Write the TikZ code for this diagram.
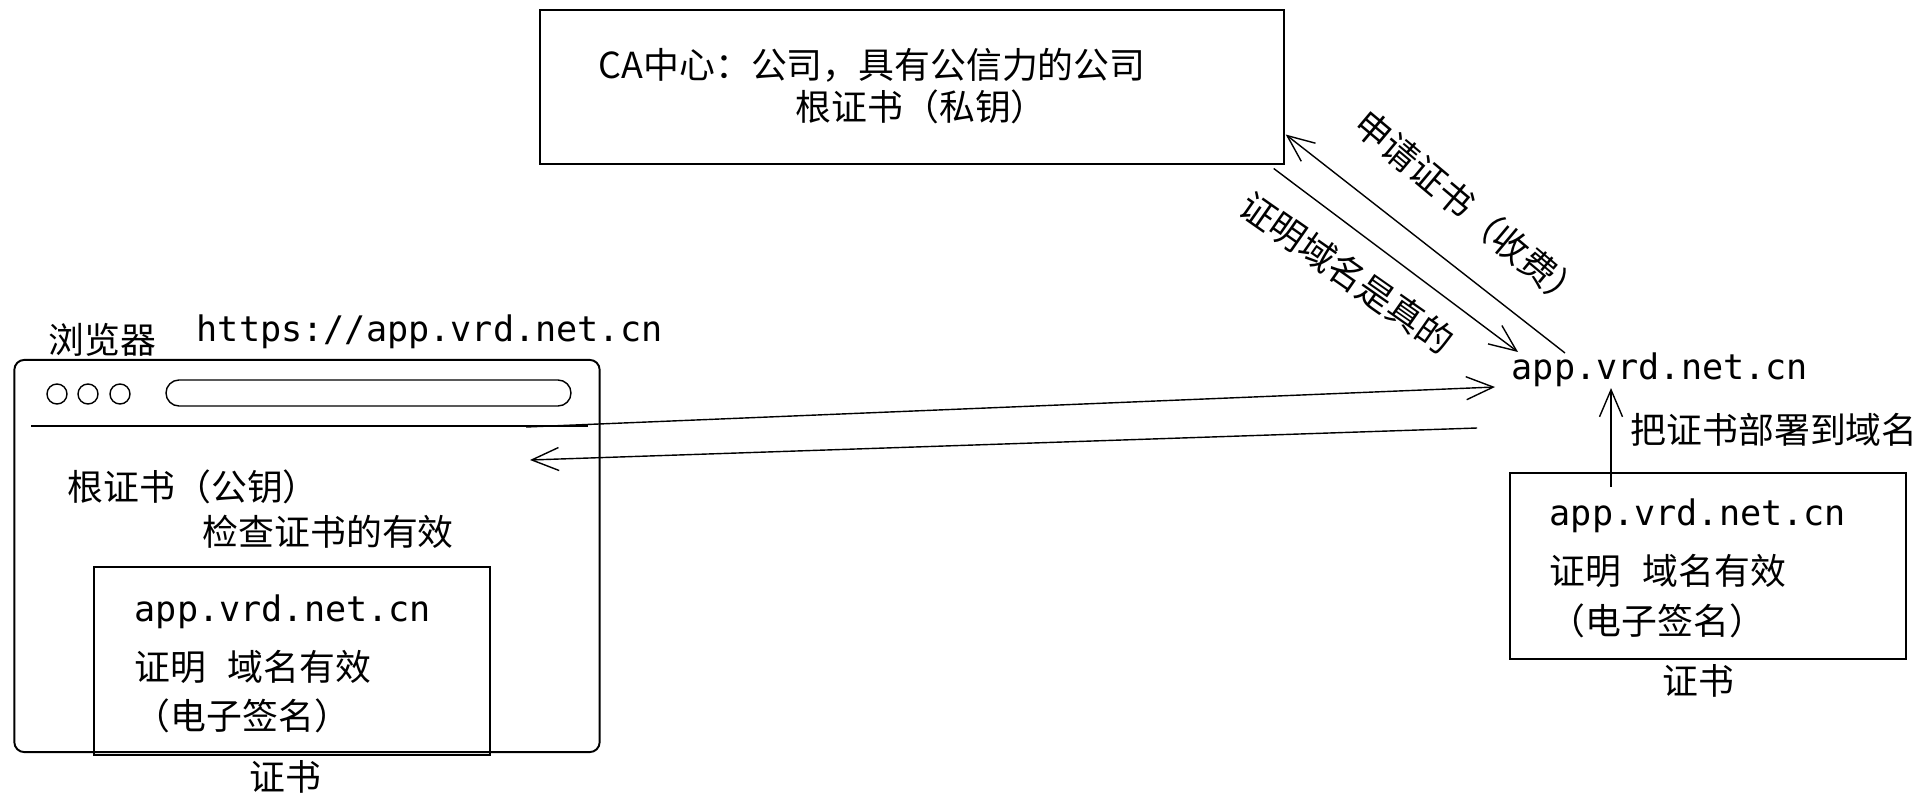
\documentclass[tikz,border=0pt]{standalone}
\usepackage{fontspec}
\setmainfont{Noto Sans CJK SC}
\setmonofont{DejaVu Sans Mono}
\usepackage{tikz}
\usetikzlibrary{calc,arrows.meta,positioning}

\begin{document}
\begin{tikzpicture}[x=0.01cm,y=-0.01cm,
  font=\fontsize{10.2}{12}\selectfont, inner sep=0pt,
  box/.style={draw, line width=0.55pt, inner sep=0pt},
  url/.style={font=\fontsize{10}{12}\selectfont\ttfamily},
  arr/.style={line width=0.4pt, -{Straight Barb[length=2.7mm,width=2.3mm]}}]
\useasboundingbox (0,0) rectangle (1931,809);

% CA
\node[box, minimum width=7.43cm, minimum height=1.53cm] (ca) at (912,87){};
\node[anchor=west] (caname) at (598,65){CA中心：公司，具有公信力的公司};
\node[anchor=west] (caroot) at (795,107){根证书（私钥）};

% browser
\node[box, rounded corners=1mm, minimum width=5.85cm, minimum height=3.92cm] (browser) at (307,556){};
\node[anchor=west] (brname) at (48,340){浏览器};
\node[anchor=west, url] (url) at (196,332){https://app.vrd.net.cn};
\draw (57,394) circle[radius=1mm];
\draw (88,394) circle[radius=1mm];
\draw (120,394) circle[radius=1mm];
\draw[rounded corners=1.3mm] (166,380) rectangle (571,406);
\draw[line width=0.55pt] (31,426) -- (588,426);
\node[anchor=west] (rootpub) at (67,487){根证书（公钥）};
\node[anchor=west] (check) at (202,532){检查证书的有效};

% cert in browser
\node[box, minimum width=3.96cm, minimum height=1.87cm] (certL) at (292,661){};
\node[anchor=west, url] (certLurl) at (134,612){app.vrd.net.cn};
\node[anchor=west] (certLtxt) at (134,667){证明\hspace{0.6em}域名有效};
\node[anchor=west] (certLsig) at (134,716){（电子签名）};
\node (certLname) at (285,777){证书};

% site
\node[anchor=west, url] (app) at (1511,370){app.vrd.net.cn};
\node[box, minimum width=3.95cm, minimum height=1.86cm] (certR) at (1708,566){};
\node[anchor=west, url] (certRurl) at (1549,516){app.vrd.net.cn};
\node[anchor=west] (certRtxt) at (1549,571){证明\hspace{0.6em}域名有效};
\node[anchor=west] (certRsig) at (1549,621){（电子签名）};
\node (certRname) at (1698,681){证书};
\node[anchor=west] (deploy) at (1630,430){把证书部署到域名};

\coordinate (applyfrom) at (1565,353);
\coordinate (applyto) at ($(ca.south east)+(1,-30)$);
\coordinate (verifyfrom) at ($(ca.south east)+(-11,4)$);
\coordinate (verifyto) at (1518,352);
\coordinate (reqfrom) at (526,427);
\coordinate (reqto) at (1495,387);
\coordinate (respfrom) at (1477,428);
\coordinate (respto) at (530,460);
\coordinate (deployfrom) at (1611,487);
\coordinate (deployto) at (1611,388);

\draw[arr] (applyfrom) -- (applyto);
\draw[arr] (verifyfrom) -- (verifyto);
\draw[arr] (reqfrom) -- (reqto);
\draw[arr] (respfrom) -- (respto);
\draw[arr] (deployfrom) -- (deployto);

\node[rotate=-40] (applylbl) at (1470,210){申请证书（收费）};
\node[rotate=-35] (verifylbl) at (1347,273){证明域名是真的};
\end{tikzpicture}
\end{document}
